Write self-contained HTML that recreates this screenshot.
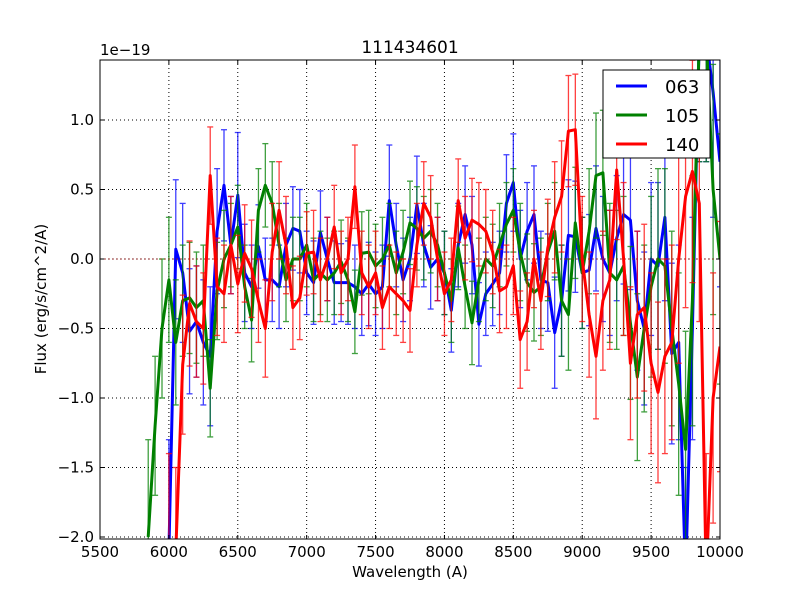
<!DOCTYPE html>
<html><head><meta charset="utf-8">
<style>
html,body{margin:0;padding:0;background:#fff;width:800px;height:600px;overflow:hidden;}
svg{display:block;font-family:"DejaVu Sans","Liberation Sans",sans-serif;}
</style></head>
<body>
<svg id="chart" width="800" height="600" viewBox="0 0 800 600" xmlns="http://www.w3.org/2000/svg" style="overflow:hidden">
  <rect x="0" y="0" width="800" height="600" fill="#fff"/>
  <defs><clipPath id="plotclip"><rect x="100" y="60" width="620" height="479"/></clipPath></defs>
  <g id="grid"></g>
  <g id="series" clip-path="url(#plotclip)"></g>
  <rect x="100" y="60" width="620" height="479" fill="none" stroke="#000" stroke-width="1"/>
  <g id="ticks"></g>
  <text x="410" y="53" font-size="17" text-anchor="middle">111434601</text>
  <text x="100" y="55" font-size="15">1e−19</text>
  <text x="410" y="577" font-size="15" text-anchor="middle">Wavelength (A)</text>
  <text x="46" y="299" font-size="15" text-anchor="middle" transform="rotate(-90 46 299)">Flux (erg/s/cm^2/A)</text>
  <g>
    <rect x="603" y="70" width="107" height="88" fill="#fff" stroke="#000" stroke-width="1"/>
    <g><line x1="616" y1="86" x2="647" y2="86" stroke="#0000ff" stroke-width="3"/><text x="665" y="93" font-size="18">063</text></g>
    <g><line x1="616" y1="115" x2="647" y2="115" stroke="#008000" stroke-width="3"/><text x="665" y="122" font-size="18">105</text></g>
    <g><line x1="616" y1="144" x2="647" y2="144" stroke="#ff0000" stroke-width="3"/><text x="665" y="151" font-size="18">140</text></g>
  </g>
</svg>
<script>
const xTicks = [5500,6000,6500,7000,7500,8000,8500,9000,9500,10000];
const yTicks = [-2.0,-1.5,-1.0,-0.5,0.0,0.5,1.0];
const yTickLabels = ["−2.0","−1.5","−1.0","−0.5","0.0","0.5","1.0"];
const seriesNames = ["063","105","140"];
const seriesColors = ["#0000ff","#008000","#ff0000"];
const seriesStart = [6000,5850,6000];
const step = 50;
const flux063 = [-2.1,0.07,-0.1,-0.52,-0.45,-0.6,-0.7,0.2,0.53,0.1,
0.46,-0.1,-0.2,0.09,-0.15,-0.15,-0.2,0.1,0.22,0.2,
-0.1,-0.17,0.19,0.0,-0.17,-0.17,-0.17,-0.2,-0.25,-0.18,
-0.25,-0.2,0.42,0.1,-0.15,0.0,0.39,0.1,-0.06,0.0,
-0.1,-0.37,0.1,0.32,0.1,-0.47,-0.25,-0.18,-0.1,0.4,
0.55,0.0,0.2,0.32,-0.15,-0.17,-0.53,-0.3,0.17,0.16,
-0.1,-0.08,0.22,0.0,-0.1,0.15,0.32,0.28,-0.3,-0.5,
0.0,-0.05,0.3,-0.68,-0.6,-2.3,-0.5,1.6,1.6,1.2,
0.7];
const flux105 = [-2.0,-1.2,-0.5,-0.15,-0.6,-0.3,-0.28,-0.35,-0.3,-0.93,
-0.23,0.0,0.1,0.23,-0.2,-0.44,0.35,0.53,0.4,0.1,
-0.15,0.0,0.0,0.1,-0.15,-0.1,-0.15,-0.1,-0.02,-0.15,
-0.38,0.04,0.05,-0.05,0.0,0.1,-0.1,0.05,0.26,0.22,
0.15,0.2,0.1,-0.1,-0.3,0.08,-0.2,-0.46,-0.15,0.0,
-0.05,0.1,0.25,0.35,0.05,-0.17,-0.24,-0.2,0.05,0.2,
-0.3,-0.4,0.26,-0.1,0.2,0.6,0.62,-0.1,-0.15,-0.05,
-0.46,-0.85,-0.5,-0.2,0.0,-0.05,-0.5,-0.9,-1.37,-0.3,
1.6,1.6,0.5,0.0];
const flux140 = [-2.1,-2.1,-0.76,-0.32,-0.45,-0.5,0.6,-0.2,-0.25,0.1,
-0.18,0.04,-0.07,-0.3,-0.5,0.05,0.35,0.1,-0.35,-0.28,
0.04,0.05,-0.15,0.0,0.23,-0.1,0.0,0.52,-0.1,-0.2,
-0.1,-0.35,-0.2,-0.25,-0.3,-0.37,0.1,0.4,0.3,0.0,
-0.25,-0.15,0.42,0.15,0.28,0.25,0.2,0.05,-0.23,-0.2,
-0.05,-0.58,-0.45,0.0,-0.3,0.08,0.3,0.45,0.92,0.93,
0.0,-0.4,-0.7,-0.3,-0.15,0.64,0.0,-0.75,-0.4,-0.35,
-0.75,-0.96,-0.7,-0.6,0.0,0.45,0.63,0.4,-2.3,-1.0,
-0.63];
const err063 = [0.8,0.5,0.5,0.45,0.4,0.45,0.5,0.45,0.4,0.35,
0.45,0.35,0.3,0.3,0.3,0.3,0.3,0.3,0.3,0.3,
0.3,0.3,0.3,0.3,0.3,0.28,0.3,0.3,0.3,0.3,
0.3,0.3,0.4,0.3,0.3,0.3,0.35,0.3,0.3,0.3,
0.3,0.3,0.3,0.35,0.35,0.3,0.3,0.3,0.3,0.35,
0.35,0.35,0.35,0.35,0.35,0.35,0.4,0.4,0.4,0.4,
0.4,0.4,0.45,0.45,0.45,0.45,0.5,0.5,0.5,0.55,
0.55,0.6,0.6,0.65,0.7,0.8,0.8,0.9,0.9,0.9,
0.9];
const err105 = [0.7,0.5,0.5,0.45,0.45,0.4,0.4,0.4,0.4,0.35,
0.35,0.35,0.3,0.3,0.3,0.3,0.3,0.3,0.3,0.3,
0.3,0.3,0.3,0.3,0.3,0.3,0.3,0.3,0.3,0.3,
0.3,0.3,0.3,0.3,0.3,0.3,0.3,0.3,0.3,0.3,
0.3,0.3,0.3,0.3,0.3,0.3,0.3,0.3,0.3,0.3,
0.3,0.3,0.3,0.3,0.35,0.35,0.35,0.35,0.35,0.35,
0.4,0.4,0.4,0.4,0.45,0.45,0.45,0.5,0.5,0.5,
0.55,0.6,0.6,0.65,0.65,0.7,0.7,0.8,0.85,0.9,
0.9,0.9,0.9,0.9];
const err140 = [0.7,0.6,0.5,0.45,0.4,0.4,0.35,0.35,0.35,0.35,
0.35,0.35,0.35,0.3,0.35,0.35,0.35,0.35,0.3,0.3,
0.3,0.3,0.3,0.3,0.3,0.3,0.3,0.3,0.3,0.3,
0.3,0.3,0.3,0.3,0.3,0.3,0.3,0.3,0.3,0.3,
0.3,0.3,0.3,0.3,0.3,0.3,0.3,0.3,0.3,0.3,
0.35,0.35,0.35,0.35,0.35,0.35,0.4,0.4,0.4,0.4,
0.45,0.45,0.45,0.5,0.5,0.5,0.55,0.55,0.6,0.6,
0.65,0.65,0.7,0.7,0.75,0.8,0.8,0.85,0.9,0.9,
0.9];
const seriesValues = [flux063, flux105, flux140];
const seriesErrors = [err063, err105, err140];

const NS = "http://www.w3.org/2000/svg";
const X0 = 100, X1 = 720, XMIN = 5500, XMAX = 10000;
const Y0 = 259, YS = 139, YTOP = 60, YBOT = 539;
function xs(w){ return X0 + (w - XMIN) * (X1 - X0) / (XMAX - XMIN); }
function ys(v){ return Y0 - v * YS; }
function clampY(y){ return Math.max(YTOP - 5, Math.min(YBOT + 5, y)); }
function mk(tag, attrs, parent){
  const e = document.createElementNS(NS, tag);
  for (const k in attrs) e.setAttribute(k, attrs[k]);
  parent.appendChild(e);
  return e;
}
const grid = document.getElementById('grid');
const ticks = document.getElementById('ticks');
const series = document.getElementById('series');

xTicks.forEach((t, i) => {
  const x = xs(t);
  if (i > 0 && i < xTicks.length - 1) {
    const g = mk('line', {x1:x, y1:60, x2:x, y2:539, stroke:'#000', 'stroke-width':1, 'stroke-dasharray':'1,3'}, grid);
    
    
  }
  mk('line', {x1:x, y1:539, x2:x, y2:535, stroke:'#000'}, ticks);
  mk('line', {x1:x, y1:60, x2:x, y2:64, stroke:'#000'}, ticks);
  const tl = mk('text', {x:x, y:557, 'font-size':15, 'text-anchor':'middle'}, ticks);
  tl.textContent = t;
  
  
});
yTicks.forEach((t, i) => {
  const y = ys(t);
  const g = mk('line', {x1:100, y1:y, x2:720, y2:y, stroke:'#000', 'stroke-width':1, 'stroke-dasharray':'1,3'}, grid);
  
  
  mk('line', {x1:100, y1:y, x2:104, y2:y, stroke:'#000'}, ticks);
  mk('line', {x1:716, y1:y, x2:720, y2:y, stroke:'#000'}, ticks);
  const tl = mk('text', {x:94, y:y+5, 'font-size':15, 'text-anchor':'end'}, ticks);
  tl.textContent = yTickLabels[i];
  
  
});

seriesValues.forEach((vals, s) => {
  const col = seriesColors[s];
  const errs = seriesErrors[s];
  const g = mk('g', {}, series);
  
  
  mk('line', {x1:100, y1:ys(0), x2:720, y2:ys(0), stroke:col, 'stroke-width':1, 'stroke-dasharray':'2,2', opacity:0.5}, g);
  vals.forEach((v, i) => {
    const x = xs(seriesStart[s] + i*step);
    const e = errs[i];
    const yLo = ys(v-e), yHi = ys(v+e);
    const eb = mk('g', {stroke:col, 'stroke-width':1.3, opacity:0.75}, g);
    
    
    mk('line', {x1:x, y1:clampY(yLo), x2:x, y2:clampY(yHi)}, eb);
    if (yLo <= YBOT) mk('line', {x1:x-3, y1:yLo, x2:x+3, y2:yLo}, eb);
    if (yHi >= YTOP) mk('line', {x1:x-3, y1:yHi, x2:x+3, y2:yHi}, eb);
  });
  const pts = vals.map((v, i) => xs(seriesStart[s] + i*step).toFixed(1) + ',' + ys(v).toFixed(1)).join(' ');
  const pl = mk('polyline', {points:pts, fill:'none', stroke:col, 'stroke-width':3, 'stroke-linejoin':'round'}, g);
  
  
});
</script>
</body></html>
